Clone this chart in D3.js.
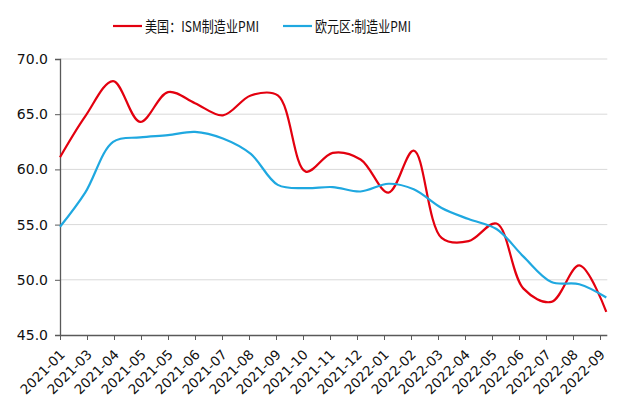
<!DOCTYPE html>
<html><head><meta charset="utf-8">
<script src="https://cdn.jsdelivr.net/npm/d3@7"></script>
<style>
html,body{margin:0;padding:0;background:#fff;}
svg{display:block;}
</style>
</head><body>
<svg id="chart" width="640" height="408"></svg>
<script>
// ---- data ----
const months = ["2021-01","2021-02","2021-03","2021-04","2021-05","2021-06","2021-07","2021-08","2021-09","2021-10","2021-11","2021-12",
                "2022-01","2022-02","2022-03","2022-04","2022-05","2022-06","2022-07","2022-08","2022-09"];
const usISM = [61.1,64.8,68.0,64.3,67.0,66.0,64.9,66.7,66.7,59.8,61.5,60.9,57.9,61.7,53.8,53.5,55.1,49.2,48.0,51.3,47.1];
const euPMI = [54.8,57.9,62.5,62.9,63.1,63.4,62.8,61.4,58.6,58.3,58.4,58.0,58.7,58.2,56.5,55.5,54.6,52.1,49.8,49.6,48.4];
const seriesNames = ["美国：ISM制造业PMI","欧元区:制造业PMI"];
const seriesColors = ["#e3000f","#1fa8e0"];
const tickLabels = ["2021-01","2021-03","2021-04","2021-05","2021-05","2021-06","2021-07","2021-08","2021-09","2021-10","2021-11","2021-12",
                    "2022-01","2022-02","2022-03","2022-04","2022-05","2022-06","2022-07","2022-08","2022-09"];
const yTicks = [45,50,55,60,65,70];

(function () {
  // month-end dates
  const dates = months.map(m => {
    const [yy, mo] = m.split("-").map(Number);
    return new Date(Date.UTC(yy, mo, 0));
  });
  const tickDates = tickLabels.map((_, i) => d3.utcDay.offset(dates[0], 30 * i));

  const svg = d3.select("#chart");
  const mLeft = 60, mTop = 59, mBottom = 335;
  const pxPerDay = 0.9;
  const spanDays = d3.utcDay.count(dates[0], dates[dates.length - 1]);
  const mRight = mLeft + spanDays * pxPerDay;

  const x = d3.scaleUtc().domain([dates[0], dates[dates.length - 1]]).range([mLeft, mRight]);
  const y = d3.scaleLinear().domain([45, 70]).range([mBottom, mTop]);

  // gridlines
  svg.append("g").selectAll("line").data(yTicks.filter(v => v > 45)).join("line")
    .attr("x1", mLeft).attr("x2", mRight + 1)
    .attr("y1", d => y(d)).attr("y2", d => y(d))
    .attr("stroke", "#d9d9d9").attr("stroke-width", 1);

  // y axis
  const yAxis = svg.append("g").attr("transform", `translate(${mLeft},0)`)
    .call(d3.axisLeft(y).tickValues(yTicks).tickFormat(d3.format(".1f")).tickSize(5).tickPadding(7));
  yAxis.select(".domain").attr("stroke", "#595959").attr("stroke-width", 1.3);
  yAxis.selectAll(".tick line").attr("stroke", "#595959");
  yAxis.selectAll("text").attr("font-family", "DejaVu Sans, sans-serif").attr("font-size", 14).attr("fill", "#111");

  // x axis
  const xAxis = svg.append("g").attr("transform", `translate(0,${mBottom})`)
    .call(d3.axisBottom(x).tickValues(tickDates).tickFormat((d, i) => tickLabels[i]).tickSize(5).tickSizeOuter(0));
  xAxis.select(".domain").attr("stroke", "#595959").attr("stroke-width", 1.3)
    .attr("d", `M${mLeft},0.5H${mRight + 1}`);
  xAxis.selectAll(".tick line").attr("stroke", "#595959");
  xAxis.selectAll("text")
    .attr("font-family", "DejaVu Sans, sans-serif").attr("font-size", 13.5).attr("fill", "#111")
    .attr("text-anchor", "end")
    .attr("x", 0).attr("y", 0).attr("dy", "0.35em")
    .attr("transform", "translate(2,17) rotate(-45)");

  // lines
  const line = d3.line().x((d, i) => x(dates[i])).y(d => y(d)).curve(d3.curveCatmullRom.alpha(0.5));
  [usISM, euPMI].forEach((s, k) => {
    svg.append("path").datum(s).attr("d", line)
      .attr("fill", "none").attr("stroke", seriesColors[k]).attr("stroke-width", 2.2)
      .attr("stroke-linejoin", "round");
  });

  // legend
  const legendX = [113, 283];
  const legendTextW = [114, 96];
  const lg = svg.append("g");
  seriesNames.forEach((n, k) => {
    lg.append("line").attr("x1", legendX[k]).attr("x2", legendX[k] + 29).attr("y1", 26).attr("y2", 26)
      .attr("stroke", seriesColors[k]).attr("stroke-width", 2.2);
    lg.append("text").attr("x", legendX[k] + 32).attr("y", 31.5).text(n)
      .attr("font-family", "Noto Sans CJK SC, sans-serif").attr("font-size", 15).attr("fill", "#111")
      .attr("textLength", legendTextW[k]).attr("lengthAdjust", "spacingAndGlyphs");
  });
})();
</script>
</body></html>
